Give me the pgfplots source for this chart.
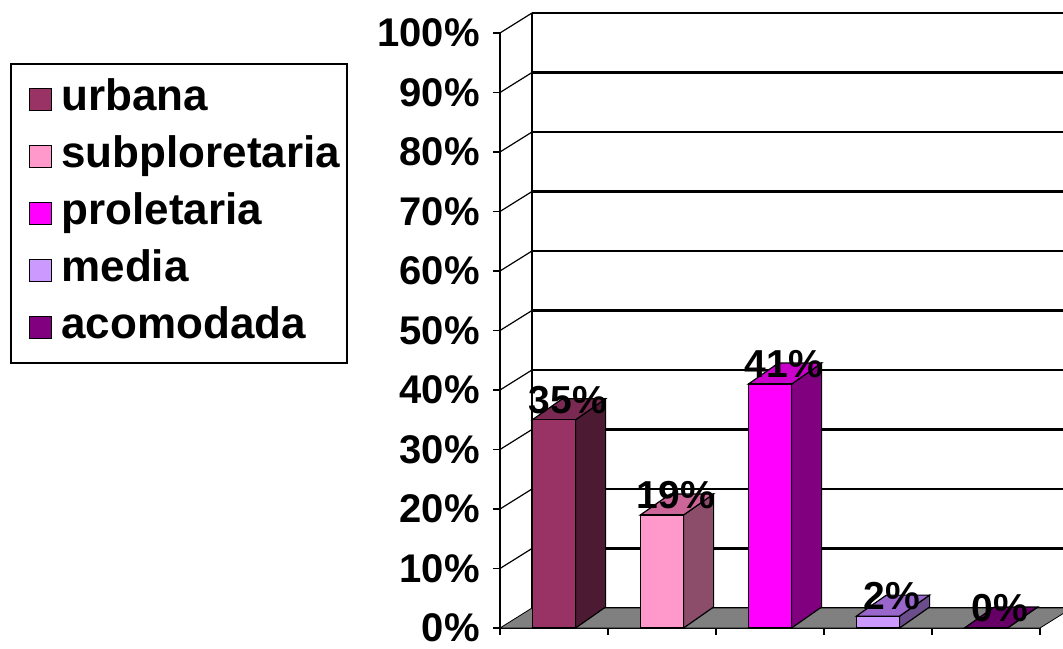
\documentclass[border=0pt]{standalone}
\usepackage{pgfplots}
\pgfplotsset{compat=1.18}
\usepackage{pgfplotstable}
\usepackage{fontspec}
\setmainfont{Liberation Sans}

% face colours: front, side, top
\definecolor{urbF}{HTML}{993366}\definecolor{urbS}{HTML}{4D1A33}\definecolor{urbT}{HTML}{7A2952}
\definecolor{subF}{HTML}{FF99CC}\definecolor{subS}{HTML}{8C4D6B}\definecolor{subT}{HTML}{CC6699}
\definecolor{proF}{HTML}{FF00FF}\definecolor{proS}{HTML}{800080}\definecolor{proT}{HTML}{CC00CC}
\definecolor{medF}{HTML}{CC99FF}\definecolor{medS}{HTML}{6B4D8C}\definecolor{medT}{HTML}{9966CC}
\definecolor{acoF}{HTML}{800080}\definecolor{acoS}{HTML}{400040}\definecolor{acoT}{HTML}{660066}
\definecolor{floorgray}{HTML}{808080}

% share of each class (percent), one column per class
\pgfplotstableread{
c v
0 35
1 19
2 41
3 2
4 0
}\shares

% half width of a column and its depth offset (axis units)
\def\bw{0.2}
\def\bdx{0.2778}
\def\bdy{3.53}

% a column with front, side and top faces, drawn from row #1 of the table
\newcommand\colbar[4]{%
  \pgfplotstablegetelem{#1}{c}\of\shares \let\cc\pgfplotsretval
  \pgfplotstablegetelem{#1}{v}\of\shares \let\vv\pgfplotsretval
  \pgfmathsetmacro\xl{\cc-\bw}%
  \pgfmathsetmacro\xr{\cc+\bw}%
  \pgfmathsetmacro\xld{\cc-\bw+\bdx}%
  \pgfmathsetmacro\xrd{\cc+\bw+\bdx}%
  \pgfmathsetmacro\vd{\vv+\bdy}%
  \edef\doplot{%
    \noexpand\addplot[fill=#3, draw=black, line width=0.6pt, forget plot]
      coordinates {(\xr,0) (\xrd,\bdy) (\xrd,\vd) (\xr,\vv)} -- cycle;
    \noexpand\addplot[fill=#4, draw=black, line width=0.6pt, forget plot]
      coordinates {(\xl,\vv) (\xr,\vv) (\xrd,\vd) (\xld,\vd)} -- cycle;
    \noexpand\addplot[fill=#2, draw=black, line width=0.6pt, forget plot]
      coordinates {(\xl,0) (\xl,\vv) (\xr,\vv) (\xr,0)} -- cycle;
  }\doplot
}

% square legend key, set in from the left edge of the box
\newcommand\legsq[1]{\addlegendimage{legend image code/.code={%
  \path (0pt,0pt);
  \draw[fill=#1, draw=black, line width=0.5pt] (5pt,-5.5pt) rectangle (16pt,5.5pt);}}}

\begin{document}
\begin{tikzpicture}
\useasboundingbox (-250pt,-10pt) rectangle (281.5pt,314pt);
\clip (-250pt,-10pt) rectangle (281.5pt,314pt);

% back wall with its gridlines
\begin{axis}[
  at={(16pt,10pt)}, anchor=south west,
  x=54pt, y=2.975pt,
  xmin=-0.5, xmax=4.417, ymin=0, ymax=100,
  axis x line=none, axis y line*=left,
  axis line style={-, line width=1.2pt},
  ytick={0,10,...,100}, yticklabels={}, major tick length=0pt,
  xtick=\empty,
  ymajorgrids, grid style={black, line width=1.2pt},
]
\end{axis}

% floor, side wall edges, columns and labels
\begin{axis}[
  name=ax, at={(0pt,0pt)}, anchor=south west,
  x=54pt, y=2.975pt,
  xmin=-0.5, xmax=4.5, ymin=0, ymax=100,
  clip=false,
  axis x line*=bottom, axis y line*=left,
  axis line style={-, line width=1.1pt},
  tick align=outside, major tick length=3.5pt,
  tick style={black, line width=0.8pt},
  xtick={-0.5,0.5,1.5,2.5,3.5,4.5}, xticklabels={},
  ytick={0,10,...,100},
  yticklabel={\pgfmathprintnumber{\tick}\%},
  yticklabel style={font=\fontsize{20}{22}\selectfont\bfseries, inner sep=0pt, xshift=-6.5pt},
  /pgf/number format/assume math mode=true,
  legend style={at={(-0.9074,0.9496)}, anchor=north west,
    draw=black, line width=1pt,
    font=\fontsize{22}{24}\selectfont\bfseries,
    inner xsep=3.5pt, inner ysep=7pt, row sep=7pt, column sep=5pt,
    nodes={inner sep=0pt, text height=16.5pt, text depth=5pt}},
  legend cell align=left,
]
\addplot[fill=floorgray, draw=black, line width=0.4pt, forget plot]
  coordinates {(-0.5,0) (4.5,0) (4.7963,3.3613) (-0.2037,3.3613)} -- cycle;
\pgfplotsinvokeforeach{10,20,...,100}{
  \draw[line width=0.6pt] (axis cs:-0.5,#1) -- ++(16pt,10pt);
}
\colbar{0}{urbF}{urbS}{urbT}
\colbar{1}{subF}{subS}{subT}
\colbar{2}{proF}{proS}{proT}
\colbar{3}{medF}{medS}{medT}
\colbar{4}{acoF}{acoS}{acoT}
\addplot[draw=none, forget plot, point meta=y,
  nodes near coords={\pgfmathprintnumber{\pgfplotspointmeta}\%},
  every node near coord/.append style={anchor=center, xshift=7pt, yshift=10pt,
    font=\fontsize{19.5}{22}\selectfont\bfseries, inner sep=0pt}]
  table[x=c, y=v] {\shares};
\legsq{urbF}\addlegendentry{urbana}
\legsq{subF}\addlegendentry{subploretaria}
\legsq{proF}\addlegendentry{proletaria}
\legsq{medF}\addlegendentry{media}
\legsq{acoF}\addlegendentry{acomodada}
\end{axis}
\end{tikzpicture}
\end{document}
